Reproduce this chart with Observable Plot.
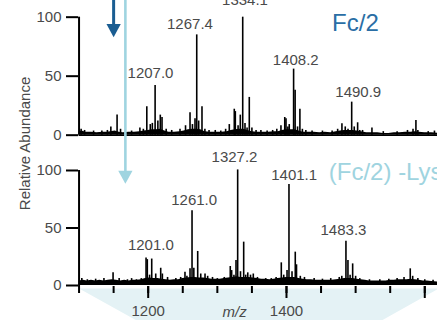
<!DOCTYPE html>
<html><head><meta charset="utf-8">
<script src="https://cdn.jsdelivr.net/npm/d3@7"></script>
<script src="https://cdn.jsdelivr.net/npm/@observablehq/plot@0.6"></script>
<style>html,body{margin:0;padding:0;overflow:hidden;background:#fff}</style>
</head><body><div id="chart"></div>
<script>
// ---------------- data ----------------
const topTitle = "Fc/2";
const bottomTitle = "(Fc/2) -Lys";
const yLabel = "Relative Abundance";
const xLabel = "m/z";
const yTicks = [0, 50, 100];
const xMinorTicks = [1100, 1150, 1200, 1250, 1300, 1350, 1400, 1450, 1500, 1550, 1600];
const xMajorTicks = [1200, 1400, 1600];
const xTickLabels = [1200, 1400];

// [m/z, relative abundance]
const topPeaks = [
  [1103, 5], [1108, 4], [1121, 3.5], [1133, 3.5], [1141, 4], [1146, 7], [1155, 17], [1160, 5],
  [1176, 3.5], [1188, 6], [1193, 5], [1198, 24], [1203, 9], [1206, 10], [1210, 42], [1214, 12],
  [1217.5, 17], [1220, 15], [1226, 5], [1234, 4], [1246, 5], [1254, 8], [1260.5, 19], [1264, 9],
  [1267.7, 14], [1270.2, 85], [1273, 12], [1277.8, 24], [1282, 5], [1288, 4], [1297, 4],
  [1305, 3.5], [1312, 5], [1317.3, 9], [1324.5, 22], [1326, 20], [1330, 8], [1333.2, 17],
  [1336.7, 100], [1340, 10], [1343, 6], [1346.2, 32], [1350, 6], [1356, 4], [1363, 4],
  [1372, 3.5], [1380, 4], [1386, 5], [1392, 8], [1397.5, 15], [1399.3, 14], [1402, 7], [1404, 9],
  [1410.3, 56], [1412.5, 38], [1416, 7], [1419.4, 22], [1423, 5], [1428, 4], [1437, 3.5],
  [1452, 3.5], [1466, 3.5], [1474, 5], [1480.2, 9.6], [1485, 7], [1489, 5], [1494.3, 28],
  [1498, 7], [1502.9, 10.5], [1506, 4], [1510, 4], [1523.6, 6], [1540, 3], [1560, 3],
  [1575, 4], [1583, 5], [1587.2, 12.5], [1590, 4], [1605, 3], [1614, 3.5]
];
const topNoise = [
  [1100, 3], [1104, 3.5], [1110, 2.5], [1118, 2.5], [1126, 2], [1134, 2.5], [1140, 2.5], [1146, 3],
  [1152, 3.5], [1158, 2.5], [1164, 2], [1172, 2.5], [1180, 2.5], [1188, 3], [1194, 3.5], [1200, 4],
  [1206, 4.5], [1212, 4.5], [1218, 5], [1224, 3.5], [1230, 2.5], [1238, 2.5], [1246, 3], [1252, 3.5],
  [1258, 4.5], [1264, 5], [1270, 5], [1276, 4.5], [1282, 3], [1290, 2.5], [1298, 2.5], [1306, 2.5],
  [1314, 3], [1320, 4], [1326, 4.5], [1332, 5], [1338, 5], [1344, 4], [1350, 3], [1358, 2.5],
  [1366, 2.5], [1374, 2.5], [1382, 3], [1388, 3], [1394, 4], [1400, 4.5], [1406, 4.5], [1412, 4.5],
  [1418, 3.5], [1424, 2.5], [1432, 2.5], [1440, 2.5], [1448, 2], [1456, 2.5], [1464, 2], [1472, 3],
  [1478, 3.5], [1484, 4], [1490, 4], [1496, 4], [1502, 3.5], [1508, 3], [1516, 2], [1524, 2],
  [1532, 2], [1540, 1.5], [1548, 1.5], [1556, 2], [1564, 2], [1572, 2.5], [1580, 2.5],
  [1586, 3], [1592, 2.5], [1600, 2], [1610, 2], [1620, 1.5]
];
const bottomPeaks = [
  [1104, 6], [1112, 5], [1124, 5.5], [1136, 6], [1149.2, 11], [1158, 6], [1170, 5], [1176, 6],
  [1183, 5], [1190, 6], [1196.9, 24], [1198.7, 22.5], [1202, 9], [1205.1, 23], [1210.9, 10],
  [1218.1, 15], [1220.5, 10], [1228, 7], [1240, 6], [1247, 7], [1253.2, 11.6], [1256, 8],
  [1260.5, 14.5], [1263.4, 65], [1266, 15], [1271.6, 29.6], [1276, 10], [1282.2, 10], [1286, 8],
  [1293, 7], [1300, 6], [1310, 7], [1318.7, 16.5], [1320.7, 13], [1324, 9], [1327, 21.7],
  [1329.4, 100.5], [1333.5, 12], [1338.1, 37.7], [1341, 9], [1344, 11], [1348, 9], [1352, 10],
  [1358, 7], [1370, 6], [1378, 6], [1385, 7], [1392.5, 19.7], [1396, 9], [1400.8, 13],
  [1403.6, 87.8], [1408, 12], [1412.7, 29], [1414.5, 18], [1420, 8], [1426, 7], [1440, 6],
  [1452, 5.5], [1464, 6], [1476.3, 7], [1480, 8], [1486, 38.5], [1488.9, 21.7], [1492, 9],
  [1495.7, 18.8], [1500, 8], [1506, 6], [1520, 5], [1535, 5], [1548, 5.5], [1560, 6],
  [1570, 7], [1579, 14.5], [1582.5, 8], [1590, 6], [1600, 5], [1612, 4.5]
];
const bottomNoise = [
  [1100, 4], [1106, 4.5], [1112, 4], [1118, 4.5], [1124, 4], [1130, 4.5], [1136, 4], [1142, 4.5],
  [1148, 5], [1154, 4.5], [1160, 4], [1166, 4.5], [1172, 4], [1178, 4.5], [1184, 4.5], [1190, 5],
  [1196, 6], [1202, 6.5], [1208, 6], [1214, 6], [1220, 5.5], [1226, 5], [1232, 4.5], [1238, 5],
  [1244, 5], [1250, 6], [1256, 6.5], [1262, 7], [1268, 7], [1274, 6.5], [1280, 6.5], [1286, 6],
  [1292, 5.5], [1298, 5.5], [1304, 5.5], [1310, 6], [1316, 6.5], [1322, 7], [1328, 7.5], [1334, 7],
  [1340, 7], [1346, 7], [1352, 6.5], [1358, 6], [1364, 5.5], [1370, 5.5], [1376, 5], [1382, 5.5],
  [1388, 6], [1394, 6.5], [1400, 7], [1406, 7], [1412, 7], [1418, 6], [1424, 5.5], [1430, 5],
  [1436, 5], [1442, 4.5], [1448, 4.5], [1454, 4.5], [1460, 4.5], [1466, 4.5], [1472, 5], [1478, 5.5],
  [1484, 6], [1490, 6], [1496, 6], [1502, 5.5], [1508, 5], [1514, 4.5], [1520, 4], [1526, 4],
  [1532, 4], [1538, 4], [1544, 4], [1550, 4.5], [1556, 4.5], [1562, 5], [1568, 5], [1574, 5],
  [1580, 5.5], [1586, 5], [1592, 4.5], [1598, 4], [1604, 4], [1610, 3.5], [1620, 3]
];
// [label, m/z of label centre, abundance at label baseline]
const topPeakLabels = [
  ["1207.0", 1203.3, 48.3], ["1267.4", 1260.4, 90.2], ["1334.1", 1340, 109.9],
  ["1408.2", 1413.4, 59.1], ["1490.9", 1503.8, 32.2]
];
const bottomPeakLabels = [
  ["1201.0", 1203.8, 31.3], ["1261.0", 1266.5, 70.2], ["1327.2", 1324.8, 107.2],
  ["1401.1", 1411.1, 91.9], ["1483.3", 1482.4, 43.5]
];
// arrows: m/z position and tip abundance in their panel
const darkArrow = {mz: 1150, tip: 83};
const lightArrow = {mz: 1167, tip: 88.4};
// zoom wedge below the axis [m/z, y]
const wedge = [[1100, -2.6], [1620, -2.6], [1536, -31], [1185, -31]];

// ---------------- layout ----------------
const TOP_ZERO = 130.7, TOP_K = 1.026, Y_MAX = 247.8;
const topU = v => TOP_ZERO + TOP_K * v;
const DARK = "#1a5d92", TITLE_DARK = "#2a6ea5", LIGHT = "#9fd4e0", TXT = "#4a4a4a";

const yTickPos = [...yTicks, ...yTicks.map(topU)];
const yTickText = new Map(yTickPos.map((p, i) => [p, String(yTicks[i % yTicks.length])]));

const downTriangle = {
  draw(ctx, size) {
    const s = Math.sqrt(size / Math.PI);
    ctx.moveTo(0, 0); ctx.lineTo(-1.3 * s, -2.4 * s); ctx.lineTo(1.3 * s, -2.4 * s); ctx.closePath();
  }
};

const plot = Plot.plot({
  width: 437, height: 320,
  marginLeft: 78, marginRight: 0, marginTop: 0, marginBottom: 34,
  style: {fontFamily: "'Liberation Sans', Arial, Helvetica, sans-serif", fontSize: "15px", overflow: "hidden", background: "#fff"},
  x: {domain: [1100, 1620], range: [78.55, 438.1]},
  y: {domain: [0, Y_MAX], range: [285, 0]},
  marks: [
    Plot.line(wedge, {x: d => d[0], y: d => d[1], fill: "#e4f2f5", stroke: "none"}),
    // spectra
    Plot.areaY(topNoise, {x: d => d[0], y1: topU(0), y2: d => topU(d[1]), fill: "black"}),
    Plot.ruleX(topPeaks, {x: d => d[0], y1: topU(0), y2: d => topU(d[1]), stroke: "black", strokeWidth: 1.6}),
    Plot.areaY(bottomNoise, {x: d => d[0], y1: 0, y2: d => d[1], fill: "black"}),
    Plot.ruleX(bottomPeaks, {x: d => d[0], y1: 0, y2: d => d[1], stroke: "black", strokeWidth: 1.6}),
    Plot.ruleY([topU(0)], {x1: 1100, x2: 1620, stroke: "black", strokeWidth: 1.5}),
    // y axes
    Plot.ruleX([1100], {y1: topU(0), y2: topU(100), stroke: "black", strokeWidth: 2}),
    Plot.ruleX([1100], {y1: -1.3, y2: 100, stroke: "black", strokeWidth: 2}),
    Plot.axisY(yTickPos, {tickSize: 12, tickPadding: 5, strokeWidth: 2, stroke: "black", fill: TXT,
      fontSize: 15, label: null, tickFormat: d => yTickText.get(d)}),
    // x axis
    Plot.axisX(xMinorTicks, {tickSize: 7, strokeWidth: 2, stroke: "black", line: true, label: null, tickFormat: () => ""}),
    Plot.axisX(xMajorTicks, {tickSize: 12, tickPadding: 7.3, strokeWidth: 2, stroke: "black", fill: TXT,
      fontSize: 15, label: null, tickFormat: d => xTickLabels.includes(d) ? String(d) : ""}),
    Plot.text([xLabel], {x: 1325, y: -27, lineAnchor: "bottom", fontStyle: "italic", fontSize: 15, fill: TXT}),
    Plot.text([yLabel], {x: 1022.6, y: 123.5, rotate: -90, fontSize: 15, fill: TXT}),
    // peak labels
    Plot.text(topPeakLabels, {x: d => d[1], y: d => topU(d[2]), text: d => d[0], lineAnchor: "bottom", fontSize: 15, fill: TXT}),
    Plot.text(bottomPeakLabels, {x: d => d[1], y: d => d[2], text: d => d[0], lineAnchor: "bottom", fontSize: 15, fill: TXT}),
    // panel titles
    Plot.text([topTitle], {x: 1466, y: topU(88.7), text: d => d, textAnchor: "start", lineAnchor: "bottom", fontSize: 24, fill: TITLE_DARK}),
    Plot.text([bottomTitle], {x: 1461.2, y: 91.3, text: d => d, textAnchor: "start", lineAnchor: "bottom", fontSize: 24, fill: LIGHT}),
    // arrows
    Plot.ruleX([darkArrow], {x: d => d.mz, y1: Y_MAX + 5, y2: d => topU(d.tip) + 8, stroke: DARK, strokeWidth: 3}),
    Plot.dot([darkArrow], {x: d => d.mz, y: d => topU(d.tip), symbol: downTriangle, r: 5.5, fill: DARK, stroke: "none"}),
    Plot.ruleX([lightArrow], {x: d => d.mz, y1: Y_MAX + 5, y2: d => d.tip + 8, stroke: LIGHT, strokeWidth: 2.6}),
    Plot.dot([lightArrow], {x: d => d.mz, y: d => d.tip, symbol: downTriangle, r: 5.5, fill: LIGHT, stroke: "none"})
  ]
});
document.getElementById("chart").appendChild(plot);
</script>
</body></html>
